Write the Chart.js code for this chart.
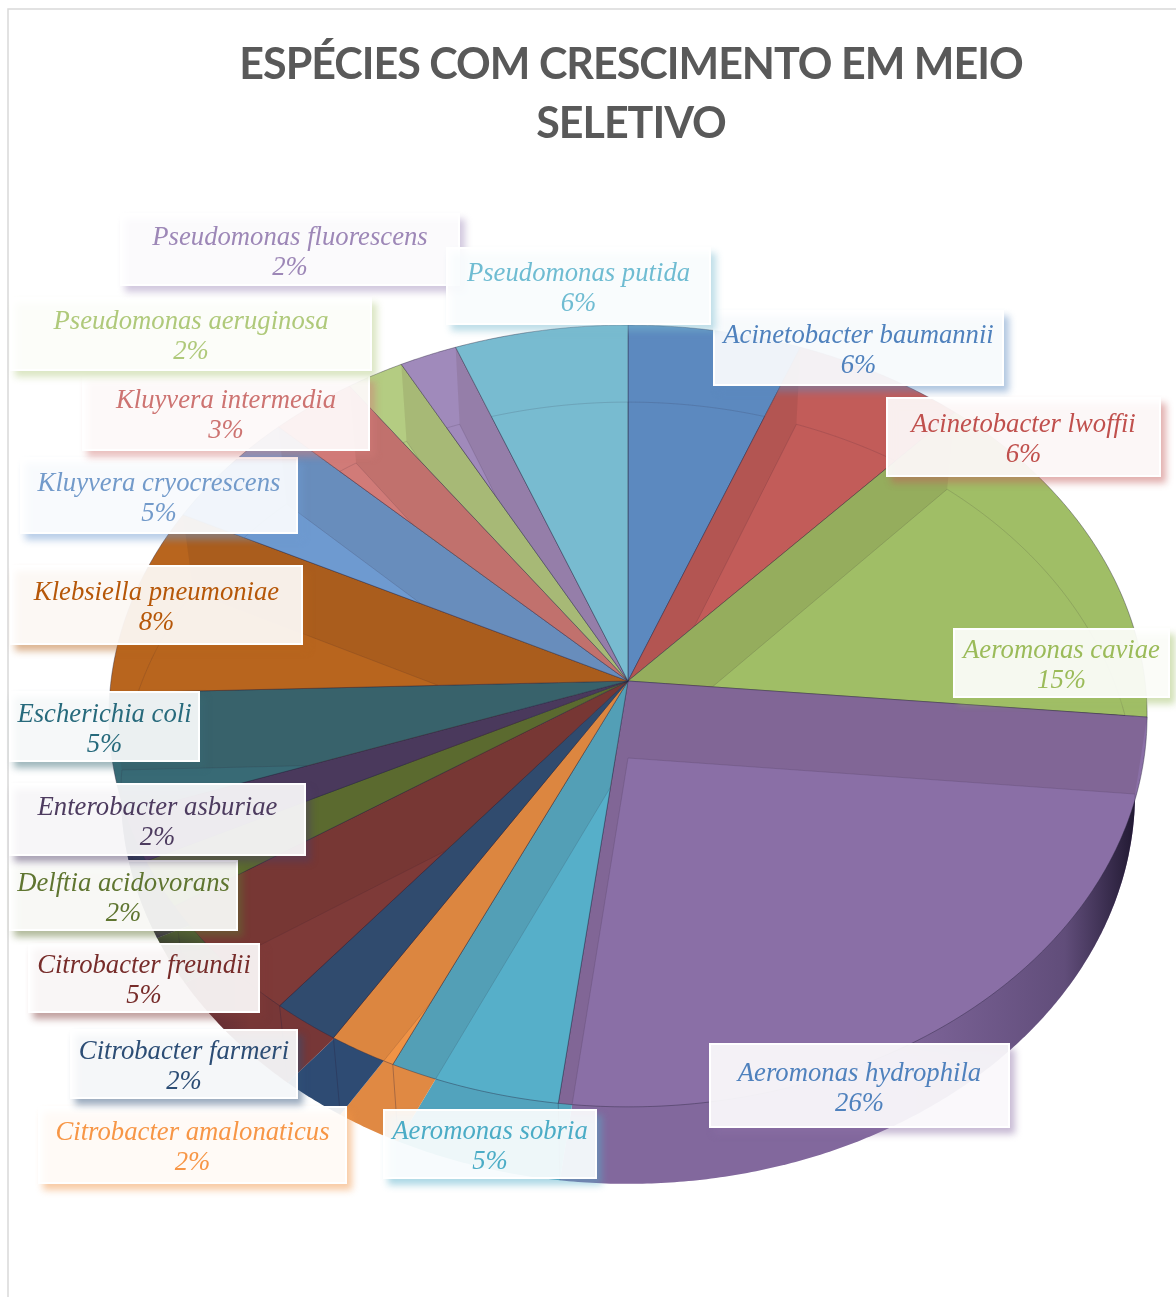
<!DOCTYPE html>
<html lang="pt">
<head>
<meta charset="utf-8">
<title>Espécies com crescimento em meio seletivo</title>
<script src="https://cdn.jsdelivr.net/npm/chart.js@4"></script>
<style>
  body { margin: 0; background: #fff; }
  canvas { display: block; }
</style>
</head>
<body>
<canvas id="pieChart" width="1176" height="1297"></canvas>
<script>
const titleLines = ['ESPÉCIES COM CRESCIMENTO EM MEIO', 'SELETIVO'];

const species = [
  'Acinetobacter baumannii', 'Acinetobacter lwoffii', 'Aeromonas caviae', 'Aeromonas hydrophila',
  'Aeromonas sobria', 'Citrobacter amalonaticus', 'Citrobacter farmeri', 'Citrobacter freundii',
  'Delftia acidovorans', 'Enterobacter asburiae', 'Escherichia coli', 'Klebsiella pneumoniae',
  'Kluyvera cryocrescens', 'Kluyvera intermedia', 'Pseudomonas aeruginosa', 'Pseudomonas fluorescens',
  'Pseudomonas putida'
];
const percents = [6, 6, 15, 26, 5, 2, 2, 5, 2, 2, 5, 8, 5, 3, 2, 2, 6];

const sliceColors = [
  '#5C89BF', '#C25C59', '#A0BE66', '#8A6FA6', '#56AFC9', '#F09345', '#2F5079', '#7E3A38', '#5F7332',
  '#4C3C64', '#386A75', '#B8651E', '#6E9AD0', '#D17B78', '#B4CC82', '#A08ABB', '#78BBD0'
];
const labelColors = [
  '#4F81BD', '#C0504D', '#9BBB59', '#4F81BD', '#4BACC6', '#F79646', '#2C4D75', '#772C2A', '#5F7530',
  '#4D3B5F', '#276A7C', '#B65708', '#729ACA', '#CD7371', '#AFC97A', '#9D87B7', '#6FBCD2'
];

// label boxes as [left, top, right, bottom]
const labelBoxes = [
  [713, 310, 1004, 386], [886, 397, 1161, 477], [953, 628, 1170, 698], [709, 1043, 1010, 1128],
  [383, 1109, 597, 1179], [38, 1106, 347, 1184], [70, 1029, 298, 1099], [28, 943, 260, 1013],
  [9, 860, 238, 931], [9, 783, 306, 856], [9, 691, 200, 762], [10, 565, 303, 645],
  [20, 457, 298, 534], [82, 375, 370, 451], [10, 297, 372, 371], [120, 213, 460, 286],
  [446, 247, 711, 325]
];

// perspective of the tilted disc
const TILT = 0.75;
const DEPTH = 0.0895;
const WALL_DROP = 77;
const BASE_RADIUS = 505;
const PIE_SHIFT_X = -3;

function project(arc, angle, bottom) {
  const r = bottom ? BASE_RADIUS : arc.outerRadius;
  const u = Math.cos(angle);
  const v = Math.sin(angle);
  const w = 1 / (1 - DEPTH * v);
  return {
    x: arc.x + PIE_SHIFT_X + r * u * w,
    y: arc.y + (bottom ? WALL_DROP : 0) + arc.outerRadius * TILT * v * w
  };
}

function center(arc, bottom) {
  return { x: arc.x + PIE_SHIFT_X, y: arc.y + (bottom ? WALL_DROP : 0) };
}

function traceSector(ctx, arc, bottom) {
  const c = center(arc, bottom);
  const steps = Math.max(2, Math.ceil((arc.endAngle - arc.startAngle) * 120));
  ctx.beginPath();
  ctx.moveTo(c.x, c.y);
  for (let i = 0; i <= steps; i++) {
    const p = project(arc, arc.startAngle + (arc.endAngle - arc.startAngle) * i / steps, bottom);
    ctx.lineTo(p.x, p.y);
  }
  ctx.closePath();
}

// the radial cut face seen through the translucent top
function addCutFace(ctx, arc, angle) {
  const a = center(arc, false);
  const b = project(arc, angle, false);
  const c = project(arc, angle, true);
  const d = center(arc, true);
  ctx.moveTo(a.x, a.y);
  ctx.lineTo(b.x, b.y);
  ctx.lineTo(c.x, c.y);
  ctx.lineTo(d.x, d.y);
  ctx.closePath();
}

const pie3d = {
  id: 'pie3d',
  beforeDatasetsDraw(chart) {
    const ctx = chart.ctx;
    const arcs = chart.getDatasetMeta(0).data;
    ctx.letterSpacing = '0px';

    // base of the disc, which also forms the visible outer wall
    ctx.save();
    arcs.forEach(function (arc) {
      traceSector(ctx, arc, true);
      ctx.fillStyle = arc.options.backgroundColor;
      ctx.fill();
      ctx.fillStyle = 'rgba(40,25,45,0.08)';
      ctx.fill();
    });
    const shade = ctx.createLinearGradient(118, 0, 1136, 0);
    shade.addColorStop(0, 'rgba(20,15,50,0.65)');
    shade.addColorStop(0.13, 'rgba(20,15,50,0)');
    shade.addColorStop(0.75, 'rgba(20,15,50,0)');
    shade.addColorStop(0.93, 'rgba(20,15,40,0.3)');
    shade.addColorStop(1, 'rgba(15,10,30,0.85)');
    arcs.forEach(function (arc) {
      traceSector(ctx, arc, true);
      ctx.fillStyle = shade;
      ctx.fill();
    });
    // vertical wall edges between slices
    arcs.forEach(function (arc) {
      if (Math.sin(arc.startAngle) < 0) return;
      const t = project(arc, arc.startAngle, false);
      const b = project(arc, arc.startAngle, true);
      ctx.beginPath();
      ctx.moveTo(t.x, t.y);
      ctx.lineTo(b.x, b.y);
      ctx.strokeStyle = 'rgba(40,30,60,0.3)';
      ctx.lineWidth = 1;
      ctx.stroke();
    });
    ctx.restore();

    // top face
    arcs.forEach(function (arc) {
      ctx.save();
      traceSector(ctx, arc, false);
      ctx.fillStyle = arc.options.backgroundColor;
      ctx.fill();
      ctx.clip();

      ctx.beginPath();
      addCutFace(ctx, arc, arc.startAngle);
      addCutFace(ctx, arc, arc.endAngle);
      ctx.fillStyle = 'rgba(60,40,30,0.11)';
      ctx.fill();

      // rim of the base, faintly visible on the far side
      traceSector(ctx, arc, true);
      ctx.strokeStyle = 'rgba(40,30,50,0.14)';
      ctx.lineWidth = 1;
      ctx.stroke();
      ctx.restore();

      traceSector(ctx, arc, false);
      ctx.strokeStyle = 'rgba(40,35,60,0.4)';
      ctx.lineWidth = 1;
      ctx.stroke();
    });
    return false;
  }
};

const speciesLabels = {
  id: 'speciesLabels',
  afterDraw(chart) {
    const ctx = chart.ctx;
    species.forEach(function (name, i) {
      const [left, top, right, bottom] = labelBoxes[i];
      const w = right - left;
      const h = bottom - top;
      const midX = left + w / 2;
      const midY = top + h / 2;

      ctx.save();
      ctx.shadowColor = sliceColors[i] + '88';
      ctx.shadowBlur = 7;
      ctx.shadowOffsetX = 5;
      ctx.shadowOffsetY = 6;
      ctx.fillStyle = 'rgba(255,255,255,0.9)';
      ctx.fillRect(left, top, w, h);
      ctx.restore();

      ctx.save();
      ctx.strokeStyle = 'rgba(255,255,255,0.95)';
      ctx.lineWidth = 2;
      ctx.strokeRect(left + 1, top + 1, w - 2, h - 2);

      ctx.font = 'italic 26.7px "Liberation Serif"';
      ctx.fillStyle = labelColors[i];
      ctx.textAlign = 'center';
      ctx.textBaseline = 'middle';
      ctx.fillText(name, midX, midY - 12);
      ctx.fillText(percents[i] + '%', midX, midY + 18);
      ctx.restore();
    });
  }
};

const chartFrame = {
  id: 'chartFrame',
  beforeDraw(chart) {
    const ctx = chart.ctx;
    ctx.save();
    ctx.fillStyle = '#fff';
    ctx.fillRect(0, 0, chart.width, chart.height);
    ctx.strokeStyle = '#D9D9D9';
    ctx.lineWidth = 1.5;
    ctx.beginPath();
    ctx.moveTo(8, chart.height);
    ctx.lineTo(8, 9);
    ctx.lineTo(chart.width, 9);
    ctx.stroke();
    ctx.restore();
    // tightens the title, reset again before the pie is drawn
    ctx.letterSpacing = '-1px';
  }
};

document.addEventListener('DOMContentLoaded', function () {
  new Chart(document.getElementById('pieChart').getContext('2d'), {
    type: 'pie',
    data: {
      labels: species,
      datasets: [{ data: percents, backgroundColor: sliceColors, radius: 517 }]
    },
    options: {
      responsive: false,
      animation: false,
      layout: { padding: { left: 86, right: 0, top: 0, bottom: 89 } },
      plugins: {
        legend: { display: false },
        tooltip: { enabled: false },
        title: {
          display: true,
          text: titleLines,
          color: '#595959',
          font: { family: 'Lato', weight: 'bold', size: 43, lineHeight: 59 / 43 },
          padding: { top: 36, bottom: 0 }
        }
      }
    },
    plugins: [chartFrame, pie3d, speciesLabels]
  });
});
</script>
</body>
</html>
